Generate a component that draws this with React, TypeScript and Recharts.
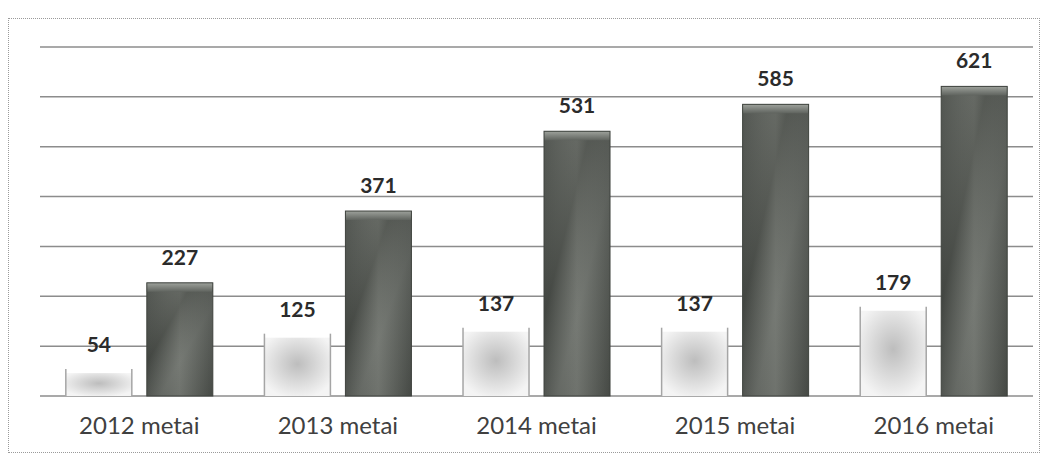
import React from 'react';
import { BarChart, Bar, XAxis, YAxis, CartesianGrid, LabelList } from 'recharts';

const categories = ['2012 metai', '2013 metai', '2014 metai', '2015 metai', '2016 metai'];
const lightValues = [54, 125, 137, 137, 179];
const darkValues = [227, 371, 531, 585, 621];
const yTicks = [0, 100, 200, 300, 400, 500, 600, 700];

const data = categories.map((name, i) => ({ name, light: lightValues[i], dark: darkValues[i] }));

// pale "glass" bar with thin grey side rails
const LightBar = (props: any) => {
  const { x, y, width, height } = props;
  if (!height || height <= 0) return null;
  return (
    <g>
      <rect x={x} y={y + 4} width={width} height={height - 4} fill="url(#gradLight)" />
      <line x1={x} y1={y} x2={x} y2={y + height} stroke="#a5a5a5" strokeWidth={1.5} />
      <line x1={x + width} y1={y} x2={x + width} y2={y + height} stroke="#a5a5a5" strokeWidth={1.5} />
    </g>
  );
};

// dark textured bar with a bevelled top
const DarkBar = (props: any) => {
  const { x, y, width, height } = props;
  if (!height || height <= 0) return null;
  return (
    <g>
      <rect x={x} y={y} width={width} height={height} fill="url(#gradDark)" />
      <rect x={x} y={y} width={width} height={height} fill="url(#gradDarkDiag)" />
      <rect x={x} y={y} width={width} height={9} fill="url(#gradCap)" />
      <rect x={x} y={y} width={width} height={height} fill="none" stroke="#3f433e" strokeWidth={1} />
    </g>
  );
};

export default function App() {
  return (
    <div
      style={{
        width: 1032,
        height: 435,
        marginTop: 10,
        border: '1px dotted #9a9a9a',
        background: '#fff',
        boxSizing: 'border-box',
      }}
    >
      <BarChart
        width={1030}
        height={433}
        data={data}
        margin={{ top: 28, right: 6, left: 31, bottom: 0 }}
        barCategoryGap="13%"
        barGap={15}
      >
        <defs>
          <radialGradient id="gradLight" cx="50%" cy="45%" r="60%">
            <stop offset="0%" stopColor="#bdbdbd" />
            <stop offset="60%" stopColor="#dedede" />
            <stop offset="100%" stopColor="#f4f4f4" />
          </radialGradient>
          <linearGradient id="gradDark" x1="0" y1="0" x2="1" y2="0">
            <stop offset="0%" stopColor="#4a4e49" />
            <stop offset="50%" stopColor="#6a6e68" />
            <stop offset="100%" stopColor="#4d514c" />
          </linearGradient>
          <linearGradient id="gradDarkDiag" x1="0" y1="0" x2="1" y2="1">
            <stop offset="0%" stopColor="#ffffff" stopOpacity={0.05} />
            <stop offset="35%" stopColor="#000000" stopOpacity={0.12} />
            <stop offset="60%" stopColor="#ffffff" stopOpacity={0.08} />
            <stop offset="100%" stopColor="#000000" stopOpacity={0.1} />
          </linearGradient>
          <linearGradient id="gradCap" x1="0" y1="0" x2="0" y2="1">
            <stop offset="0%" stopColor="#9ea29c" />
            <stop offset="100%" stopColor="#5f635e" />
          </linearGradient>
        </defs>
        <CartesianGrid vertical={false} stroke="#8c8c8c" strokeWidth={1.5} />
        <XAxis
          dataKey="name"
          axisLine={false}
          tickLine={false}
          tickSize={0}
          tickMargin={21}
          height={56}
          tick={{ fill: '#404040', fontSize: 24, fontFamily: 'Lato' }}
        />
        <YAxis hide domain={[0, 700]} ticks={yTicks} />
        <Bar dataKey="light" shape={<LightBar />} isAnimationActive={false}>
          <LabelList
            dataKey="light"
            position="top"
            offset={17}
            style={{ fill: '#2b2b2b', fontSize: 21, fontWeight: 700, fontFamily: 'Lato' }}
          />
        </Bar>
        <Bar dataKey="dark" shape={<DarkBar />} isAnimationActive={false}>
          <LabelList
            dataKey="dark"
            position="top"
            offset={18}
            style={{ fill: '#2b2b2b', fontSize: 21, fontWeight: 700, fontFamily: 'Lato' }}
          />
        </Bar>
      </BarChart>
    </div>
  );
}
